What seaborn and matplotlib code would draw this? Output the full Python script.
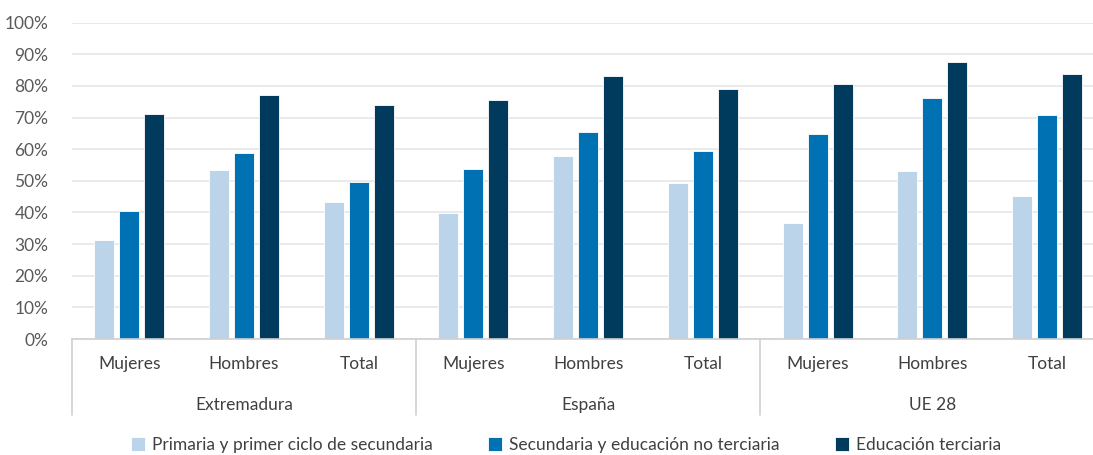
import numpy as np
import pandas as pd
import matplotlib
matplotlib.use('Agg')
import matplotlib.pyplot as plt
import matplotlib.transforms as mtransforms
from matplotlib.ticker import PercentFormatter
import seaborn as sns

# Data ------------------------------------------------------------------------
groups = ['Extremadura', 'España', 'UE 28']
sexes = ['Mujeres', 'Hombres', 'Total']
levels = ['Primaria y primer ciclo de secundaria',
          'Secundaria y educación no terciaria',
          'Educación terciaria']
primaria = [31.3, 53.3, 43.3, 39.9, 57.8, 49.4, 36.8, 53.1, 45.3]
secundaria = [40.5, 58.8, 49.6, 53.7, 65.6, 59.5, 64.9, 76.2, 70.7]
terciaria = [71.0, 77.0, 74.0, 75.7, 83.1, 79.1, 80.5, 87.6, 83.9]
colors = ['#BBD4E9', '#0072B3', '#003A5C']

# Long-form table
cats = [g + '|' + s for g in groups for s in sexes]
rows = []
for lvl, vals in zip(levels, [primaria, secundaria, terciaria]):
    for c, v in zip(cats, vals):
        rows.append({'cat': c, 'nivel': lvl, 'valor': v / 100})
df = pd.DataFrame(rows)

# Plot ------------------------------------------------------------------------
sns.set_theme(style='white')
plt.rcParams['font.family'] = ['Lato', 'DejaVu Sans']

fig = plt.figure(figsize=(10.93, 4.55), dpi=100)
ax = fig.add_axes([72 / 1093, 1 - 339 / 455, 9 * 114.7 / 1093, (339 - 22.7) / 455])

sns.barplot(data=df, x='cat', y='valor', hue='nivel', order=cats, hue_order=levels,
            palette=colors, width=0.654, gap=0.2, saturation=1, ax=ax,
            edgecolor='white', linewidth=0.6, legend=True)

ax.set_ylim(0, 1.0)
ax.set_yticks(np.arange(0, 1.01, 0.1))
ax.yaxis.set_major_formatter(PercentFormatter(1.0, decimals=0))
ax.grid(axis='y', color='#E6E6E6', linewidth=1.2)
ax.set_axisbelow(True)
for side in ['left', 'right', 'top']:
    ax.spines[side].set_visible(False)
ax.spines['bottom'].set_color('#D0D0D0')
ax.spines['bottom'].set_linewidth(1.2)
ax.set_xlim(-0.5, 8.5)
ax.set_xlabel('')
ax.set_ylabel('')
ax.set_xticks(range(9))
ax.set_xticklabels(sexes * 3)
ax.tick_params(axis='y', length=0, pad=17, labelsize=12.5, labelcolor='#595959')
ax.tick_params(axis='x', length=0, pad=12, labelsize=12.5, labelcolor='#404040')

# Group labels and separators
trans = mtransforms.blended_transform_factory(ax.transData, ax.transAxes)
for i, g in enumerate(groups):
    ax.text(3 * i + 1, -0.209, g, transform=trans, ha='center', va='center',
            fontsize=12.5, color='#404040')
for b in [-0.5, 2.5, 5.5, 8.5]:
    ax.plot([b, b], [0, -0.24], transform=trans, color='#D0D0D0', lw=1.2, clip_on=False)

# Legend
handles, labels = ax.get_legend_handles_labels()
ax.get_legend().remove()
fig.legend(handles, labels, loc='center', bbox_to_anchor=(566 / 1093, 1 - 445 / 455),
           ncol=3, frameon=False, fontsize=12.5, handlelength=0.8, handleheight=0.8,
           handletextpad=0.4, columnspacing=3.2, labelcolor='#404040')

fig.savefig('out.png', dpi=100)
